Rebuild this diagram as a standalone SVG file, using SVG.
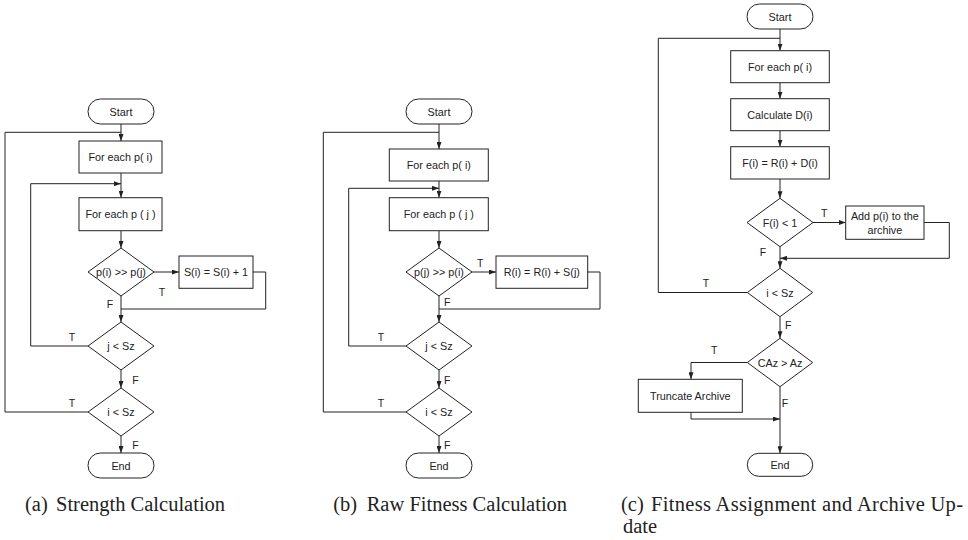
<svg xmlns="http://www.w3.org/2000/svg" width="968" height="540" viewBox="0 0 968 540">
<style>
.n{fill:#fff;stroke:#222;stroke-width:1}
.t{font-family:"Liberation Sans",Arial,sans-serif;font-size:10.8px;fill:#222;text-anchor:middle;dominant-baseline:central}
.l{font-family:"Liberation Sans",Arial,sans-serif;font-size:10.5px;fill:#222;text-anchor:middle;dominant-baseline:central}
.c{fill:none;stroke:#222;stroke-width:1}
.a{marker-end:url(#ah)}
.cap{font-family:"Liberation Serif","Times New Roman",serif;font-size:20.5px;fill:#222}
</style>
<defs>
<marker id="ah" viewBox="0 0 7 5" refX="7" refY="2.5" markerWidth="7" markerHeight="5" markerUnits="userSpaceOnUse" orient="auto"><path d="M0,0 L7,2.5 L0,5 z" fill="#222"/></marker>
</defs>
<rect width="968" height="540" fill="#fff"/>

<!-- Panel (a) -->
<g id="connectors-a">
<path class="c a" d="M121,124 V141"/>
<path class="c" d="M88,412 H5 V132.3 H121"/>
<path class="c a" d="M121,173 V197.7"/>
<path class="c a" d="M88,346 H30.7 V183.7 H121"/>
<path class="c a" d="M121,230.7 V248"/>
<path class="c a" d="M154,272 H179"/>
<path class="c" d="M253,272 H265.7 V309 H121"/>
<path class="c a" d="M121,296 V322"/>
<path class="c a" d="M121,370 V388"/>
<path class="c a" d="M121,436 V453"/>
<text class="l" x="162" y="292">T</text>
<text class="l" x="110" y="304">F</text>
<text class="l" x="72" y="337">T</text>
<text class="l" x="135.5" y="379.5">F</text>
<text class="l" x="72" y="403">T</text>
<text class="l" x="135.5" y="445">F</text>
</g>
<g id="a-start"><rect class="n" x="88" y="99" width="66" height="25" rx="12.5"/><text class="t" x="121" y="111.5">Start</text></g>
<g id="a-pi"><rect class="n" x="79" y="141" width="83" height="32"/><text class="t" x="120.5" y="157">For each p( i)</text></g>
<g id="a-pj"><rect class="n" x="79" y="197.7" width="83" height="33"/><text class="t" x="120.5" y="214.2">For each p ( j )</text></g>
<g id="a-dom"><path class="n" d="M121,248 L154,272 L121,296 L88,272 Z"/><text class="t" x="121" y="272">p(i) &gt;&gt; p(j)</text></g>
<g id="a-s"><rect class="n" x="179" y="256" width="74" height="32.3"/><text class="t" x="216" y="272">S(i) = S(i) + 1</text></g>
<g id="a-j"><path class="n" d="M121,322 L154,346 L121,370 L88,346 Z"/><text class="t" x="121" y="346">j &lt; Sz</text></g>
<g id="a-i"><path class="n" d="M121,388 L154,412 L121,436 L88,412 Z"/><text class="t" x="121" y="412">i &lt; Sz</text></g>
<g id="a-end"><rect class="n" x="88" y="453" width="66" height="25" rx="12.5"/><text class="t" x="121" y="465.5">End</text></g>

<!-- Panel (b) -->
<g id="connectors-b">
<path class="c a" d="M439,124 V149"/>
<path class="c" d="M406,412 H323.3 V132.3 H439"/>
<path class="c a" d="M439,181 V197.7"/>
<path class="c a" d="M406,346 H348.7 V188.3 H439"/>
<path class="c a" d="M439,230.7 V248"/>
<path class="c a" d="M472,272 H496"/>
<path class="c" d="M587.7,272 H600 V309 H439"/>
<path class="c a" d="M439,296 V322"/>
<path class="c a" d="M439,370 V388"/>
<path class="c a" d="M439,436 V453"/>
<text class="l" x="480.3" y="263.3">T</text>
<text class="l" x="447.3" y="302">F</text>
<text class="l" x="381" y="337">T</text>
<text class="l" x="447.3" y="379.5">F</text>
<text class="l" x="381" y="403">T</text>
<text class="l" x="447.3" y="445">F</text>
</g>
<g id="b-start"><rect class="n" x="406" y="99" width="66" height="25" rx="12.5"/><text class="t" x="439" y="111.5">Start</text></g>
<g id="b-pi"><rect class="n" x="389.3" y="149" width="99" height="32"/><text class="t" x="438.8" y="165">For each p( i)</text></g>
<g id="b-pj"><rect class="n" x="389.3" y="197.7" width="99" height="33"/><text class="t" x="438.8" y="214.2">For each p ( j )</text></g>
<g id="b-dom"><path class="n" d="M439,248 L472,272 L439,296 L406,272 Z"/><text class="t" x="439" y="272">p(j) &gt;&gt; p(i)</text></g>
<g id="b-r"><rect class="n" x="496" y="256" width="91.7" height="32.3"/><text class="t" x="541.8" y="272">R(i) = R(i) + S(j)</text></g>
<g id="b-j"><path class="n" d="M439,322 L472,346 L439,370 L406,346 Z"/><text class="t" x="439" y="346">j &lt; Sz</text></g>
<g id="b-i"><path class="n" d="M439,388 L472,412 L439,436 L406,412 Z"/><text class="t" x="439" y="412">i &lt; Sz</text></g>
<g id="b-end"><rect class="n" x="406" y="453" width="66" height="25" rx="12.5"/><text class="t" x="439" y="465.5">End</text></g>

<!-- Panel (c) -->
<g id="connectors-c">
<path class="c a" d="M780,29 V50.7"/>
<path class="c" d="M747.3,292.5 H658.3 V38.3 H780"/>
<path class="c a" d="M780,82.7 V98.7"/>
<path class="c a" d="M780,130.7 V146.7"/>
<path class="c a" d="M780,179 V198.3"/>
<path class="c a" d="M813,222.5 H845.7"/>
<path class="c a" d="M924,222.5 H949.3 V258.3 H780"/>
<path class="c a" d="M780,246.7 V268.3"/>
<path class="c a" d="M780,316.7 V338.3"/>
<path class="c a" d="M747.3,362.5 H691 V379.3"/>
<path class="c a" d="M691,412.3 V419 H780"/>
<path class="c a" d="M780,386.7 V453.3"/>
<text class="l" x="824.3" y="213">T</text>
<text class="l" x="763" y="251.7">F</text>
<text class="l" x="706" y="283.3">T</text>
<text class="l" x="788.3" y="325">F</text>
<text class="l" x="714.3" y="350">T</text>
<text class="l" x="785" y="403.3">F</text>
</g>
<g id="c-start"><rect class="n" x="747" y="4" width="66" height="25" rx="12.5"/><text class="t" x="780" y="16.5">Start</text></g>
<g id="c-pi"><rect class="n" x="730.7" y="50.7" width="98.6" height="32"/><text class="t" x="780" y="66.7">For each p( i)</text></g>
<g id="c-d"><rect class="n" x="730.7" y="98.7" width="98.6" height="32"/><text class="t" x="780" y="114.7">Calculate D(i)</text></g>
<g id="c-f"><rect class="n" x="730.7" y="146.7" width="98.6" height="32.3"/><text class="t" x="780" y="162.8">F(i) = R(i) + D(i)</text></g>
<g id="c-fl"><path class="n" d="M780,198.3 L813,222.5 L780,246.7 L747,222.5 Z"/><text class="t" x="780" y="222.5">F(i) &lt; 1</text></g>
<g id="c-add"><rect class="n" x="845.7" y="206" width="78.3" height="33.3"/><text class="t" x="884.8" y="216">Add p(i) to the</text><text class="t" x="884.8" y="229.5">archive</text></g>
<g id="c-i"><path class="n" d="M780,268.3 L812.7,292.5 L780,316.7 L747.3,292.5 Z"/><text class="t" x="780" y="292.5">i &lt; Sz</text></g>
<g id="c-caz"><path class="n" d="M780,338.3 L812.7,362.5 L780,386.7 L747.3,362.5 Z"/><text class="t" x="780" y="362.5">CAz &gt; Az</text></g>
<g id="c-trunc"><rect class="n" x="638.3" y="379.3" width="104" height="33"/><text class="t" x="690.3" y="395.8">Truncate Archive</text></g>
<g id="c-end"><rect class="n" x="747.3" y="453.3" width="65.4" height="23" rx="11.5"/><text class="t" x="780" y="464.8">End</text></g>

<!-- Captions -->
<g id="captions">
<text class="cap" x="25" y="510.5">(a)</text>
<text class="cap" x="56" y="510.5">Strength Calculation</text>
<text class="cap" x="333.3" y="510.5">(b)</text>
<text class="cap" x="366.7" y="510.5">Raw Fitness Calculation</text>
<text class="cap" x="621" y="510.5">(c)</text>
<text class="cap" x="651" y="510.5" textLength="312" lengthAdjust="spacing">Fitness Assignment and Archive Up-</text>
<text class="cap" x="623" y="532.7">date</text>
</g>
</svg>
